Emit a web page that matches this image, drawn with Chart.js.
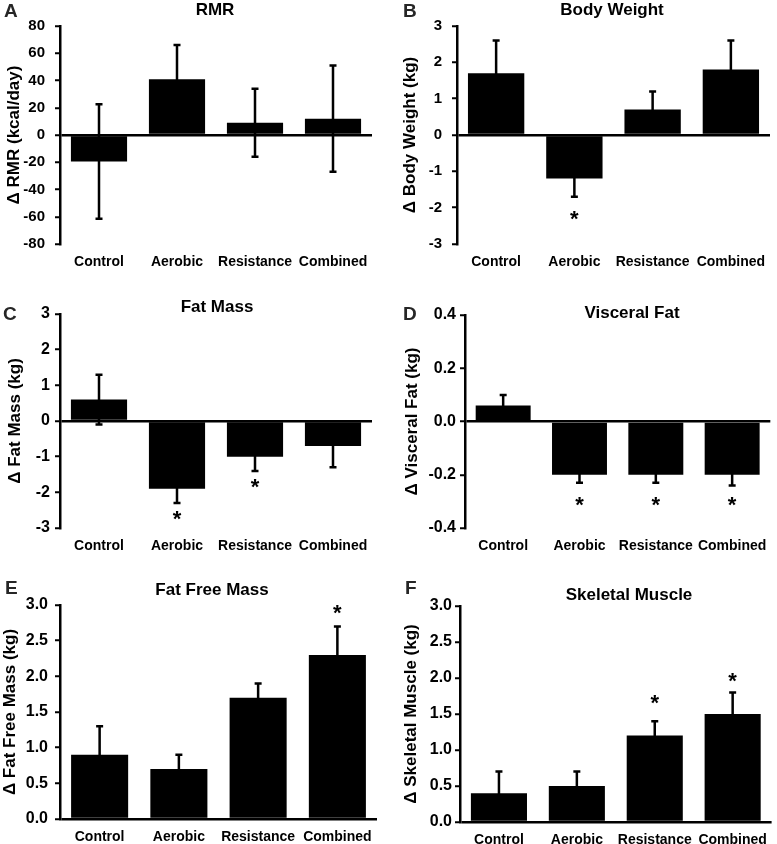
<!DOCTYPE html>
<html lang="en">
<head>
  <meta charset="UTF-8" />
  <title>Exercise groups - change from baseline</title>
  <style>
    body { margin: 0; background: #fff; }
    #wrap { position: relative; width: 777px; height: 844px; overflow: hidden; }
    canvas { position: absolute; }
  </style>
</head>
<body>
  <div id="wrap">
    <canvas id="pA"></canvas>
    <canvas id="pB"></canvas>
    <canvas id="pC"></canvas>
    <canvas id="pD"></canvas>
    <canvas id="pE"></canvas>
    <canvas id="pF"></canvas>
  </div>

  <script src="https://cdn.jsdelivr.net/npm/chart.js"></script>
  <script>
    // groups (x categories)
    const groups = ["Control", "Aerobic", "Resistance", "Combined"];

    // A - RMR (kcal/day): mean, error, asterisk position (null = none)
    const rmrMean = [-19.5, 41, 9, 12];
    const rmrErr  = [42, 25, 25, 39];
    const rmrStar = [null, null, null, null];

    // B - body weight (kg)
    const bwMean = [1.7, -1.2, 0.7, 1.8];
    const bwErr  = [0.9, 0.5, 0.5, 0.8];
    const bwStar = [null, -2.22, null, null];

    // C - fat mass (kg)
    const fmMean = [0.6, -1.9, -1.0, -0.7];
    const fmErr  = [0.7, 0.4, 0.4, 0.6];
    const fmStar = [null, -2.64, -1.74, null];

    // D - visceral fat (kg)
    const vfMean = [0.06, -0.2, -0.2, -0.2];
    const vfErr  = [0.04, 0.03, 0.03, 0.04];
    const vfStar = [null, -0.3, -0.3, -0.3];

    // E - fat free mass (kg)
    const ffmMean = [0.9, 0.7, 1.7, 2.3];
    const ffmErr  = [0.4, 0.2, 0.2, 0.4];
    const ffmStar = [null, null, null, 2.94];

    // F - skeletal muscle (kg)
    const smMean = [0.4, 0.5, 1.2, 1.5];
    const smErr  = [0.3, 0.2, 0.2, 0.3];
    const smStar = [null, null, 1.70, 2.01];

    const FONT = "'Liberation Sans', Arial, sans-serif";

    // layout: box = canvas [x, y, w, h]; area = [left, right, top, bottom] of plot (page px)
    const panels = [
      { id: "pA", letter: "A", title: "RMR", yTitle: "Δ RMR (kcal/day)", mean: rmrMean, err: rmrErr, star: rmrStar,
        min: -80, max: 80, step: 20, dec: 0, tickSize: 15,
        box: [0, 0, 388, 280], area: [60, 372, 26, 244], tickPad: 10, yTitleX: 14, titleAt: [215, 10], letterAt: [4, 12] },
      { id: "pB", letter: "B", title: "Body Weight", yTitle: "Δ Body Weight (kg)", mean: bwMean, err: bwErr, star: bwStar,
        min: -3, max: 3, step: 1, dec: 0, tickSize: 15,
        box: [389, 0, 388, 280], area: [457, 770, 26, 244], tickPad: 10, yTitleX: 410, titleAt: [612, 10], letterAt: [403, 12] },
      { id: "pC", letter: "C", title: "Fat Mass", yTitle: "Δ Fat Mass (kg)", mean: fmMean, err: fmErr, star: fmStar,
        min: -3, max: 3, step: 1, dec: 0, tickSize: 16,
        box: [0, 280, 388, 280], area: [60, 372, 314, 528], tickPad: 5, yTitleX: 15, titleAt: [217, 307], letterAt: [3, 315] },
      { id: "pD", letter: "D", title: "Visceral Fat", yTitle: "Δ Visceral Fat (kg)", mean: vfMean, err: vfErr, star: vfStar,
        min: -0.4, max: 0.4, step: 0.2, dec: 1, tickSize: 16,
        box: [389, 280, 388, 280], area: [465, 772, 315, 528], tickPad: 4, yTitleX: 412, titleAt: [632, 313], letterAt: [403, 315] },
      { id: "pE", letter: "E", title: "Fat Free Mass", yTitle: "Δ Fat Free Mass (kg)", mean: ffmMean, err: ffmErr, star: ffmStar,
        min: 0, max: 3, step: 0.5, dec: 1, tickSize: 16,
        box: [0, 560, 388, 284], area: [60, 377, 605, 819], tickPad: 7, yTitleX: 10, titleAt: [212, 590], letterAt: [5, 589] },
      { id: "pF", letter: "F", title: "Skeletal Muscle", yTitle: "Δ Skeletal Muscle (kg)", mean: smMean, err: smErr, star: smStar,
        min: 0, max: 3, step: 0.5, dec: 1, tickSize: 16,
        box: [389, 560, 388, 284], area: [460, 776, 606, 822], tickPad: 3, yTitleX: 411, titleAt: [629, 595], letterAt: [405, 589] }
    ];

    // error bars, asterisks, panel title and letter
    const extras = {
      id: "extras",
      afterDatasetsDraw(chart, args, opts) {
        const p = opts.panel;
        const ctx = chart.ctx;
        const y = chart.scales.y;
        const meta = chart.getDatasetMeta(0);
        ctx.save();
        ctx.strokeStyle = "#000";
        ctx.fillStyle = "#000";
        ctx.lineWidth = 2.5;
        meta.data.forEach((bar, i) => {
          const hi = y.getPixelForValue(p.mean[i] + p.err[i]);
          const lo = y.getPixelForValue(p.mean[i] - p.err[i]);
          ctx.beginPath();
          ctx.moveTo(bar.x, hi); ctx.lineTo(bar.x, lo);
          ctx.moveTo(bar.x - 3.5, hi); ctx.lineTo(bar.x + 3.5, hi);
          ctx.moveTo(bar.x - 3.5, lo); ctx.lineTo(bar.x + 3.5, lo);
          ctx.stroke();
          if (p.star[i] !== null) {
            ctx.font = "bold 22px " + FONT;
            ctx.textAlign = "center";
            ctx.textBaseline = "alphabetic";
            const m = ctx.measureText("*");
            const cy = y.getPixelForValue(p.star[i]);
            ctx.fillText("*", bar.x, cy + (m.actualBoundingBoxAscent - m.actualBoundingBoxDescent) / 2);
          }
        });
        const ox = p.box[0], oy = p.box[1];
        ctx.textBaseline = "middle";
        ctx.textAlign = "center";
        ctx.font = "bold 17px " + FONT;
        ctx.fillText(p.title, p.titleAt[0] - ox, p.titleAt[1] - oy);
        ctx.textAlign = "left";
        ctx.fillStyle = "#262626";
        ctx.font = "bold 19px " + FONT;
        ctx.fillText(p.letter, p.letterAt[0] - ox, p.letterAt[1] - oy);
        ctx.restore();
      }
    };

    panels.forEach(p => {
      const [bx, by, bw, bh] = p.box;
      const [left, right, top, bottom] = p.area;
      const cv = document.getElementById(p.id);
      cv.width = bw; cv.height = bh;
      cv.style.left = bx + "px"; cv.style.top = by + "px";
      cv.style.width = bw + "px"; cv.style.height = bh + "px";

      const yTitleSize = 17;
      new Chart(cv, {
        type: "bar",
        data: {
          labels: groups,
          datasets: [{
            data: p.mean,
            backgroundColor: "#000",
            borderWidth: 0,
            barPercentage: 0.72,
            categoryPercentage: 1
          }]
        },
        options: {
          responsive: false,
          animation: false,
          devicePixelRatio: 1,
          layout: { padding: { left: 0, top: top - by, right: bx + bw - right, bottom: 0 } },
          plugins: {
            legend: { display: false },
            tooltip: { enabled: false },
            extras: { panel: p }
          },
          scales: {
            x: {
              grid: { display: false, drawTicks: false },
              border: { display: false },
              ticks: {
                padding: 10, autoSkip: false, maxRotation: 0, minRotation: 0,
                color: "#000", font: { family: FONT, size: 14, weight: "bold" }
              },
              afterFit: s => { s.height = by + bh - bottom; }
            },
            y: {
              min: p.min, max: p.max,
              border: { display: true, color: "#000", width: 2.5 },
              grid: {
                color: c => Math.abs(c.tick.value) < 1e-9 ? "#000" : "rgba(0,0,0,0)",
                lineWidth: 2.5,
                tickColor: "#000",
                tickWidth: 2,
                tickLength: 5
              },
              ticks: {
                stepSize: p.step,
                padding: p.tickPad,
                color: "#000",
                font: { family: FONT, size: p.tickSize, weight: "bold" },
                callback: v => Number(v).toFixed(p.dec)
              },
              title: {
                display: true,
                text: p.yTitle,
                color: "#000",
                font: { family: FONT, size: yTitleSize, weight: "bold", lineHeight: 1 },
                padding: { top: Math.max(0, p.yTitleX - bx - yTitleSize / 2), bottom: 0 }
              },
              afterFit: s => { s.width = left - bx; }
            }
          }
        },
        plugins: [extras]
      });
    });
  </script>
</body>
</html>
